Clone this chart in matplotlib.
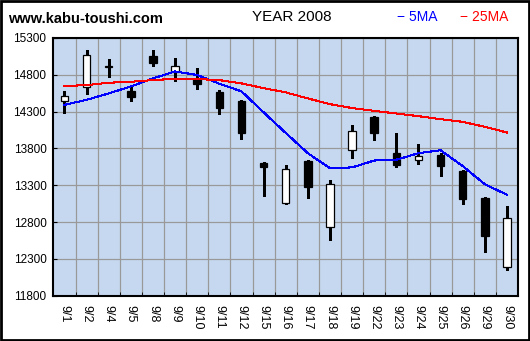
import matplotlib
matplotlib.use("Agg")
import matplotlib.pyplot as plt
from matplotlib.patches import Rectangle

plt.rcParams['font.family'] = ['Liberation Sans', 'DejaVu Sans']

# daily candles, Sept 2008
dates = ["9/1", "9/2", "9/4", "9/5", "9/8", "9/9", "9/10", "9/11", "9/12", "9/15", "9/16",
         "9/17", "9/18", "9/19", "9/22", "9/23", "9/24", "9/25", "9/26", "9/29", "9/30"]
opens = [14438, 14629, 14905, 14583, 15055, 14833, 14738, 14561, 14442, 13598, 13063,
         13625, 12726, 13784, 14224, 13734, 13648, 13716, 13489, 13121, 12191]
highs = [14569, 15123, 15001, 14623, 15123, 15014, 14874, 14575, 14442, 13598, 13557,
         13625, 13353, 14102, 14224, 13993, 13843, 13730, 13489, 13121, 12999]
lows = [14297, 14555, 14787, 14456, 14933, 14728, 14623, 14283, 13942, 13162, 13063,
        13139, 12572, 13684, 13929, 13566, 13602, 13439, 13057, 12403, 12158]
closes = [14510, 15069, 14910, 14501, 14964, 14915, 14674, 14343, 14011, 13547, 13526,
          13275, 13321, 14043, 14011, 13580, 13703, 13561, 13112, 12608, 12858]

# moving averages
ma5 = [14392, 14460, 14547, 14642, 14751, 14846, 14797, 14679, 14575, 14290, 14010,
       13735, 13530, 13542, 13635, 13646, 13735, 13775, 13560, 13313, 13170]
ma25 = [14647, 14660, 14692, 14705, 14728, 14746, 14742, 14728, 14683, 14619, 14561,
        14479, 14401, 14348, 14310, 14274, 14238, 14197, 14161, 14093, 14016]

yticks = [11800, 12300, 12800, 13300, 13800, 14300, 14800, 15300]

fig = plt.figure(figsize=(5.30, 3.41), dpi=100)
fig.patch.set_facecolor("white")
ax = fig.add_axes([0.1008, 0.1331, 0.8766, 0.7555])
ax.set_facecolor("#C6D8F0")

x = list(range(len(dates)))
w = 0.34
for i in x:
    o, h, l, c = opens[i], highs[i], lows[i], closes[i]
    ax.plot([i, i], [l, h], color="black", lw=0.9, zorder=3, antialiased=False)
    lo, hi = min(o, c), max(o, c)
    face = "white" if c >= o else "black"
    ax.add_patch(Rectangle((i - w / 2, lo), w, max(hi - lo, 8), facecolor=face,
                           edgecolor="black", lw=0.9, zorder=4))

ax.plot(x, ma5, color="#0000FF", lw=0.75, zorder=5, antialiased=False)
ax.plot(x, ma25, color="#FF0000", lw=0.75, zorder=5, antialiased=False)

ax.set_xlim(-0.5, len(dates) - 0.5)
ax.set_ylim(11800, 15300)
ax.set_yticks(yticks)
ax.set_yticklabels([str(v) for v in yticks], fontsize=8.5)
ax.set_xticks(x)
ax.set_xticklabels(dates, rotation=-90, fontsize=9, va="top")
ax.set_xticks([i + 0.5 for i in x[:-1]], minor=True)
ax.tick_params(axis="x", which="major", length=0, pad=7)
ax.tick_params(axis="x", which="minor", direction="in", length=3, color="black")
ax.tick_params(axis="y", direction="in", length=3, color="black", pad=5)
ax.grid(True, which="minor", axis="x", color="#999999", lw=0.9, zorder=1)
ax.grid(True, which="major", axis="y", color="#999999", lw=0.9, zorder=1)
ax.set_axisbelow(True)
for s in ax.spines.values():
    s.set_linewidth(1.5)
    s.set_color("black")

fig.text(0.015, 0.945, "www.kabu-toushi.com", fontsize=10.5, fontweight="bold", va="center")
fig.text(0.551, 0.95, "YEAR 2008", fontsize=11, ha="center", va="center")
fig.text(0.749, 0.95, "\u2212 5MA", fontsize=10, color="#0000FF", va="center")
fig.text(0.868, 0.95, "\u2212 25MA", fontsize=10, color="#FF0000", va="center")

# outer frame
fig.patches.append(Rectangle((0.002, 0.003), 0.996, 0.994, transform=fig.transFigure,
                             fill=False, edgecolor="black", lw=2))

fig.savefig("out.png", dpi=100)
